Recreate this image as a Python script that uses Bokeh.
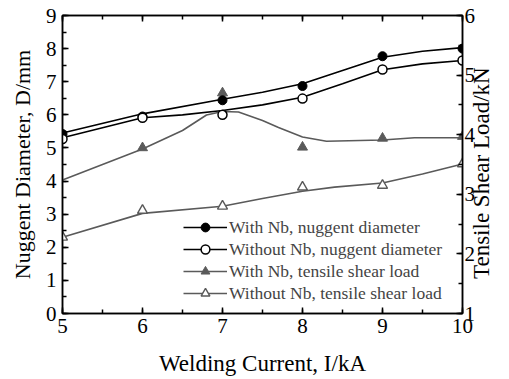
import math
from bokeh.plotting import figure
from bokeh.models import (LinearAxis, Range1d, SingleIntervalTicker, Legend,
                          LegendItem, CustomJSTickFormatter)
from bokeh.embed import file_html
from bokeh.resources import INLINE

# ---- data ----
current = [5, 6, 7, 8, 9, 10]
d_with = [5.42, 5.95, 6.44, 6.87, 7.77, 8.0]
d_without = [5.27, 5.91, 6.0, 6.49, 7.37, 7.64]
load_with_x = [6, 7, 8, 9, 10]
load_with = [3.78, 4.70, 3.79, 3.94, 3.97]
load_without = [2.28, 2.73, 2.80, 3.12, 3.15, 3.51]

# fitted curves as drawn in the reference
fit_d_with_x = [5, 6, 7, 7.5, 8, 8.5, 9, 9.5, 10]
fit_d_with = [5.45, 6.03, 6.47, 6.68, 6.94, 7.34, 7.74, 7.92, 8.03]
fit_d_without_x = [5, 6, 6.5, 7, 7.5, 8, 8.5, 9, 9.5, 10]
fit_d_without = [5.31, 5.91, 6.0, 6.13, 6.30, 6.53, 6.94, 7.36, 7.54, 7.64]
fit_l_with_x = [5, 6, 6.5, 6.8, 7, 7.2, 7.5, 7.7, 8, 8.3, 9, 9.4, 10]
fit_l_with = [3.24, 3.76, 4.07, 4.33, 4.39, 4.38, 4.24, 4.12, 3.96, 3.89, 3.91, 3.95, 3.95]
fit_l_without_x = [5, 6, 7, 7.5, 8, 8.4, 9, 9.5, 10]
fit_l_without = [2.28, 2.68, 2.80, 2.93, 3.05, 3.12, 3.19, 3.34, 3.51]

labels = ["With Nb, nuggent diameter", "Without Nb, nuggent diameter",
          "With Nb, tensile shear load", "Without Nb, tensile shear load"]
right_title = "Tensile Shear Load/kN"

FONT = "Liberation Serif"
GREY = "#5a5a5a"

p = figure(width=509, height=379, x_range=Range1d(5, 10), y_range=Range1d(0, 9),
           output_backend="svg", toolbar_location=None,
           min_border_left=62, min_border_right=47, min_border_top=15, min_border_bottom=66)
p.extra_y_ranges = {"load": Range1d(1, 6)}
p.xgrid.visible = False
p.ygrid.visible = False
p.outline_line_color = "black"
p.outline_line_width = 1.5
p.background_fill_color = "white"
p.border_fill_color = "white"

def style(ax):
    ax.ticker = SingleIntervalTicker(interval=1, num_minor_ticks=2)
    ax.major_tick_in = 6
    ax.major_tick_out = 0
    ax.minor_tick_in = 4
    ax.minor_tick_out = 0
    ax.axis_line_width = 1.5
    ax.major_tick_line_width = 1.5
    ax.minor_tick_line_width = 1.5
    ax.major_label_text_font = FONT
    ax.major_label_text_font_size = "21px"
    ax.major_label_text_color = "black"
    ax.axis_label_text_font = FONT
    ax.axis_label_text_font_size = "22px"
    ax.axis_label_text_font_style = "normal"
    ax.axis_label_text_color = "black"
    ax.major_label_standoff = 5

style(p.xaxis[0])
style(p.yaxis[0])
p.xaxis[0].axis_label = "Welding Current, I/kA"
p.xaxis[0].axis_label_text_font_size = "23px"
p.yaxis[0].axis_label = "Nuggent Diameter, D/mm"
p.xaxis[0].axis_label_standoff = 15
p.yaxis[0].axis_label_standoff = 8
p.yaxis[0].major_label_standoff = 6

# right title reads bottom-to-top; it starts at the bottom of the axis, so
# non-breaking spaces lift it to where the reference places it
right = LinearAxis(y_range_name="load", axis_label="\u00a0" * 6 + right_title)
style(right)
right.axis_label_text_font_size = "23px"
right.axis_label_orientation = math.pi / 2
right.axis_label_align = "start"
right.major_label_standoff = 2
right.axis_label_standoff = 3
p.add_layout(right, "right")

top = LinearAxis()
style(top)
top.formatter = CustomJSTickFormatter(code="return ''")
top.major_label_standoff = 0
top.major_label_text_font_size = "1px"
p.add_layout(top, "above")

# lines
l4 = p.line(fit_l_without_x, fit_l_without, y_range_name="load", line_color=GREY, line_width=1.6)
l3 = p.line(fit_l_with_x, fit_l_with, y_range_name="load", line_color=GREY, line_width=1.6)
l2 = p.line(fit_d_without_x, fit_d_without, line_color="black", line_width=1.6)
l1 = p.line(fit_d_with_x, fit_d_with, line_color="black", line_width=1.6)

# markers
m4 = p.scatter(current, load_without, y_range_name="load", marker="triangle", size=10,
               fill_color="white", line_color=GREY, line_width=1.4)
m3 = p.scatter(load_with_x, load_with, y_range_name="load", marker="triangle", size=10,
               fill_color=GREY, line_color=GREY, line_width=1)
m1 = p.scatter(current, d_with, marker="circle", size=9, fill_color="black", line_color="black")
m2 = p.scatter(current, d_without, marker="circle", size=9, fill_color="white",
               line_color="black", line_width=1.5)

legend = Legend(items=[LegendItem(label=labels[0], renderers=[l1, m1]),
                       LegendItem(label=labels[1], renderers=[l2, m2]),
                       LegendItem(label=labels[2], renderers=[l3, m3]),
                       LegendItem(label=labels[3], renderers=[l4, m4])],
                location=(121, 9), padding=0, margin=0, spacing=0,
                glyph_width=44, glyph_height=22, label_height=22, label_standoff=2,
                label_text_font=FONT, label_text_font_size="17.5px",
                border_line_color=None, background_fill_alpha=0)
p.add_layout(legend, "center")

open("out.html", "w").write(file_html(p, INLINE))
